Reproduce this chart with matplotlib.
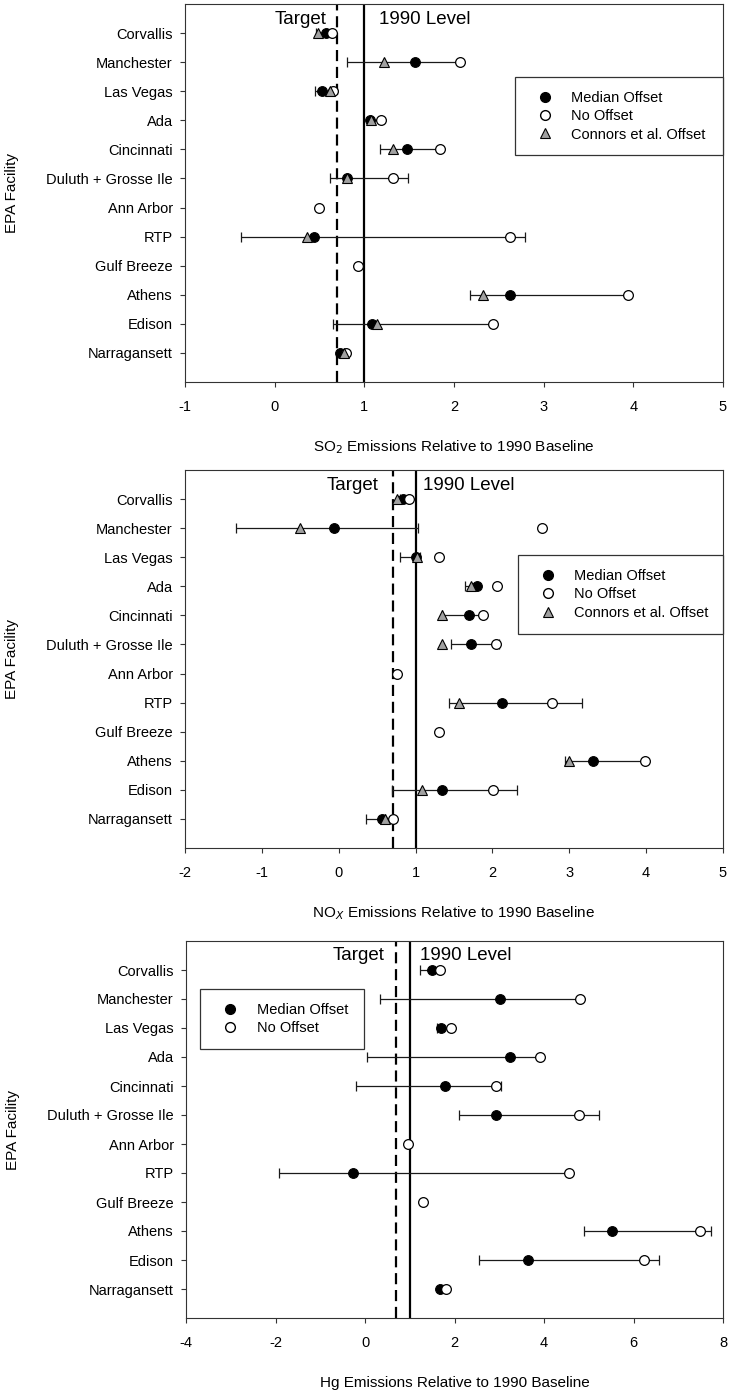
import numpy as np
import matplotlib
matplotlib.use('Agg')
import matplotlib.pyplot as plt
from matplotlib.lines import Line2D

plt.rcParams['font.family'] = ['Liberation Sans', 'DejaVu Sans']
plt.rcParams['axes.unicode_minus'] = False

nan = np.nan

facilities = ["Corvallis", "Manchester", "Las Vegas", "Ada", "Cincinnati",
              "Duluth + Grosse Ile", "Ann Arbor", "RTP", "Gulf Breeze",
              "Athens", "Edison", "Narragansett"]

target_level = 0.7
base_level = 1.0

# SO2
so2_median = [0.57, 1.56, 0.53, 1.06, 1.48, 0.81, nan, 0.44, nan, 2.62, 1.08, 0.73]
so2_nooff = [0.64, 2.07, 0.65, 1.19, 1.84, 1.32, 0.49, 2.62, 0.93, 3.94, 2.44, 0.79]
so2_connors = [0.48, 1.22, 0.62, 1.07, 1.32, 0.81, nan, 0.36, nan, 2.32, 1.14, 0.77]
so2_lo = [0.46, 0.81, 0.45, 1.06, 1.17, 0.62, nan, -0.38, nan, 2.18, 0.65, 0.72]
so2_hi = [0.64, 2.07, 0.65, 1.19, 1.84, 1.49, nan, 2.79, nan, 3.94, 2.44, 0.79]

# NOx
nox_median = [0.84, -0.06, 1.00, 1.80, 1.70, 1.72, nan, 2.12, nan, 3.31, 1.34, 0.56]
nox_nooff = [0.92, 2.65, 1.30, 2.06, 1.88, 2.04, 0.76, 2.77, 1.30, 3.98, 2.01, 0.71]
nox_connors = [0.76, -0.51, 1.02, 1.72, 1.34, 1.34, nan, 1.57, nan, 3.00, 1.09, 0.60]
nox_lo = [0.80, -1.33, 0.80, 1.64, 1.34, 1.46, nan, 1.43, nan, 2.94, 0.69, 0.35]
nox_hi = [0.90, 1.03, 1.06, 1.80, 1.88, 2.09, nan, 3.17, nan, 3.98, 2.32, 0.60]

# Hg
hg_median = [1.50, 3.02, 1.70, 3.24, 1.79, 2.93, nan, -0.26, nan, 5.51, 3.64, 1.67]
hg_nooff = [1.67, 4.80, 1.92, 3.92, 2.93, 4.78, 0.97, 4.55, 1.30, 7.49, 6.24, 1.81]
hg_lo = [1.24, 0.34, 1.62, 0.05, -0.19, 2.10, nan, -1.93, nan, 4.90, 2.54, 1.65]
hg_hi = [1.67, 4.80, 1.92, 3.92, 3.03, 5.23, nan, 4.55, nan, 7.73, 6.57, 1.81]

TRI_GRAY = '#a0a0a0'
EDGE = '#333333'


def panel(ax, median, nooff, lo, hi, connors, xlim, xticks, xlabel,
          leg_box, txt_gap):
    y = np.arange(1, len(facilities) + 1)
    lo = np.array(lo)
    hi = np.array(hi)
    ok = ~np.isnan(lo)
    ax.errorbar((lo[ok] + hi[ok]) / 2, y[ok], xerr=(hi[ok] - lo[ok]) / 2,
                fmt='none', ecolor='#1a1a1a', elinewidth=0.9, capsize=3.8,
                capthick=0.9, zorder=2)
    ax.axvline(target_level, color='black', lw=1.6, dashes=(5, 2.6), zorder=1)
    ax.axvline(base_level, color='black', lw=1.6, zorder=1)
    ax.plot(median, y, 'o', color='black', ms=7, mew=0.8, ls='none', zorder=3)
    ax.plot(nooff, y, 'o', mfc='white', mec='black', ms=7, mew=0.9, ls='none', zorder=4)
    handles = [Line2D([], [], marker='o', color='black', ms=7, ls='none'),
               Line2D([], [], marker='o', mfc='white', mec='black', ms=7, ls='none')]
    labels = ['Median Offset', 'No Offset']
    if connors is not None:
        ax.plot(connors, y, '^', mfc=TRI_GRAY, mec='black', ms=6.5, mew=0.8,
                ls='none', zorder=5)
        handles.append(Line2D([], [], marker='^', mfc=TRI_GRAY, mec='black',
                              ms=6.5, mew=0.8, ls='none'))
        labels.append('Connors et al. Offset')

    ax.set_ylim(len(facilities) + 1, 0)
    ax.set_yticks(y)
    ax.set_yticklabels(facilities)
    ax.set_xlim(*xlim)
    ax.set_xticks(xticks)
    ax.tick_params(axis='y', length=3.8, width=0.8, pad=5, labelsize=10.5, color=EDGE)
    ax.tick_params(axis='x', length=3.8, width=0.8, pad=9, labelsize=10.5, color=EDGE)
    for s in ax.spines.values():
        s.set_linewidth(0.8)
        s.set_color(EDGE)

    ax.set_xlabel(xlabel, fontsize=11)
    ax.xaxis.set_label_coords(0.5, -0.172)
    ax.xaxis.label.set_va('center')
    ax.set_ylabel('EPA Facility', fontsize=11)
    ax.yaxis.set_label_coords(-0.322, 0.5)
    ax.yaxis.label.set_va('center')

    ax.annotate('Target', xy=(target_level, 1), xycoords=('data', 'axes fraction'),
                xytext=(-txt_gap[0], -15), textcoords='offset pixels',
                ha='right', va='center', fontsize=13.5)
    ax.annotate('1990 Level', xy=(base_level, 1), xycoords=('data', 'axes fraction'),
                xytext=(txt_gap[1], -15), textcoords='offset pixels',
                ha='left', va='center', fontsize=13.5)

    leg = ax.legend(handles, labels, loc='upper left', bbox_to_anchor=leg_box,
                    mode='expand', borderaxespad=0, fontsize=10.5, frameon=True,
                    fancybox=False, framealpha=1, edgecolor=EDGE,
                    borderpad=0.95, labelspacing=0.3, handlelength=2.2,
                    handletextpad=0.7)
    leg.get_frame().set_linewidth(0.9)


W, H = 735, 1395
fig = plt.figure(figsize=(W / 100, H / 100), dpi=100)

ax1 = fig.add_axes([185 / W, 1 - 382 / H, 538 / W, 378 / H])
ax2 = fig.add_axes([185 / W, 1 - 848 / H, 538 / W, 378 / H])
ax3 = fig.add_axes([186 / W, 1 - 1318 / H, 537 / W, 377 / H])

panel(ax1, so2_median, so2_nooff, so2_lo, so2_hi, so2_connors, (-1, 5),
      np.arange(-1, 6, 1), 'SO$_2$ Emissions Relative to 1990 Baseline',
      (0.613, 0.0, 0.387, 0.807), (11, 15))
panel(ax2, nox_median, nox_nooff, nox_lo, nox_hi, nox_connors, (-2, 5),
      np.arange(-2, 6, 1), 'NO$_X$ Emissions Relative to 1990 Baseline',
      (0.619, 0.0, 0.381, 0.775), (14, 7))
panel(ax3, hg_median, hg_nooff, hg_lo, hg_hi, None, (-4, 8),
      np.arange(-4, 9, 2), 'Hg Emissions Relative to 1990 Baseline',
      (0.027, 0.0, 0.304, 0.872), (12, 10))

fig.savefig('out.png', dpi=100)
